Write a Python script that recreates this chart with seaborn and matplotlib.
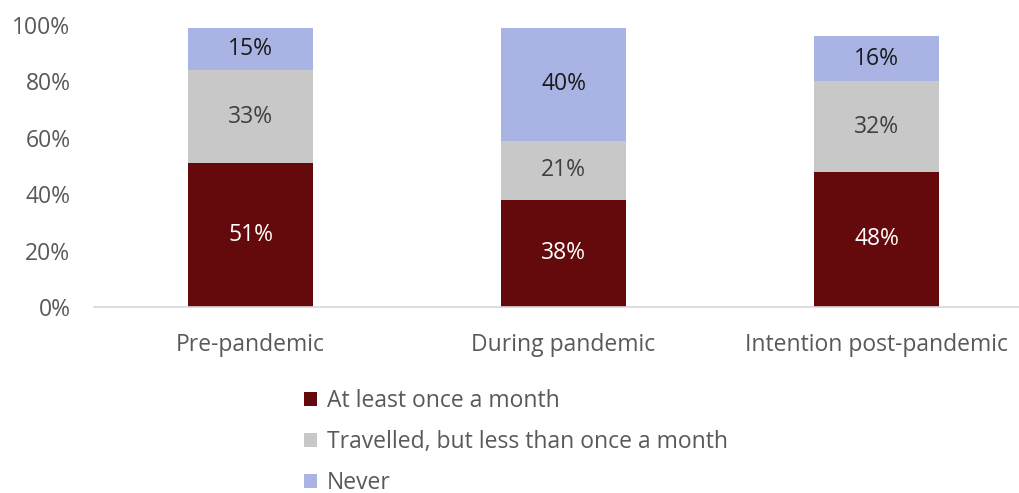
import matplotlib
matplotlib.use("Agg")
import matplotlib.pyplot as plt
import seaborn as sns
import pandas as pd
import numpy as np
from matplotlib.patches import Patch

categories = ["Pre-pandemic", "During pandemic", "Intention post-pandemic"]
series_names = ["At least once a month", "Travelled, but less than once a month", "Never"]
monthly = [51, 38, 48]
less_often = [33, 21, 32]
never = [15, 40, 16]
yticks = [0, 20, 40, 60, 80, 100]

colors = ["#640a0c", "#c8c8c8", "#aab4e4"]
label_colors = ["#ffffff", "#404040", "#1a1a1a"]

sns.set_theme(style="white")
plt.rcParams["font.family"] = ["Open Sans", "DejaVu Sans"]
FS = 16.5

fig = plt.figure(figsize=(10.19, 4.93), dpi=100)
W, H = 1019, 493
ax = fig.add_axes([94 / W, (H - 307) / H, (1033 - 94) / W, 282 / H])

df = pd.DataFrame({"cat": categories, "m": monthly, "l": less_often, "n": never})
df["c1"] = df["m"]
df["c2"] = df["m"] + df["l"]
df["c3"] = df["m"] + df["l"] + df["n"]

for col, color in zip(["c3", "c2", "c1"], colors[::-1]):
    sns.barplot(data=df, x="cat", y=col, color=color, width=0.4, ax=ax,
                saturation=1, linewidth=0, order=categories)

series = [monthly, less_often, never]
for i in range(len(categories)):
    bottom = 0
    for s, vals in enumerate(series):
        v = vals[i]
        ax.text(i, bottom + v / 2, f"{v}%", ha="center", va="center",
                fontsize=FS, color=label_colors[s])
        bottom += v

ax.set_xlim(-0.5, 2.5)
ax.set_ylim(0, 100)
ax.set_yticks(yticks)
ax.set_yticklabels([f"{t}%" for t in yticks])
ax.set_xlabel("")
ax.set_ylabel("")
for sp in ["left", "right", "top"]:
    ax.spines[sp].set_visible(False)
ax.spines["bottom"].set_color("#d9d9d9")
ax.spines["bottom"].set_linewidth(1.2)
ax.tick_params(axis="y", length=0, pad=17, labelsize=FS, labelcolor="#595959")
ax.tick_params(axis="x", length=0, pad=19, labelsize=FS, labelcolor="#595959")
ax.grid(False)

handles = [Patch(facecolor=c, edgecolor="none") for c in colors]
fig.legend(handles, series_names, loc="upper left",
           bbox_to_anchor=(304 / W, 1 - 389 / H), frameon=False,
           fontsize=FS, labelcolor="#595959", handlelength=0.55,
           handleheight=0.55, handletextpad=0.45, labelspacing=0.74,
           borderpad=0, borderaxespad=0)

fig.savefig("out.png", dpi=100)
